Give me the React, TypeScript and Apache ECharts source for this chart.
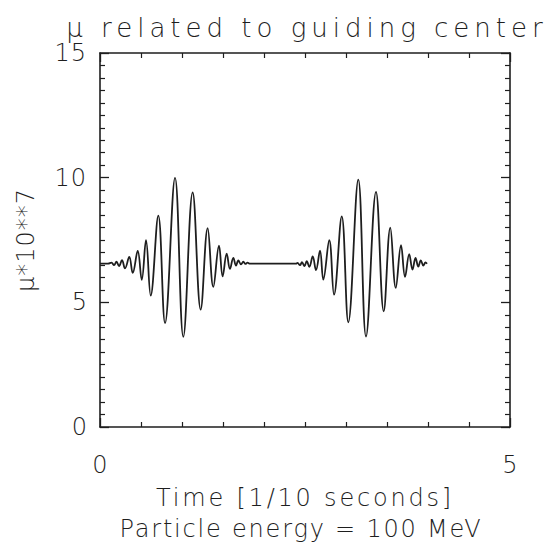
import React, { useEffect, useRef } from "react";
import * as echarts from "echarts";

// Time [1/10 s] of each local extremum of the trace
const timeValues = [
  0, 0.098, 0.14, 0.171, 0.201, 0.232, 0.268, 0.305, 0.357, 0.399, 0.46, 0.509,
  0.561, 0.618, 0.711, 0.793, 0.915, 1.016, 1.13, 1.228, 1.313, 1.382, 1.451,
  1.496, 1.545, 1.585, 1.626, 1.659, 1.687, 1.72, 1.748, 1.774, 1.799, 1.829,
  2.39, 2.409, 2.439, 2.463, 2.494, 2.521, 2.553, 2.594, 2.634, 2.683, 2.723,
  2.796, 2.854, 2.948, 3.028, 3.15, 3.244, 3.366, 3.46, 3.54, 3.607, 3.671,
  3.72, 3.771, 3.811, 3.848, 3.882, 3.912, 3.943, 3.97, 3.988,
];
// mu * 10**7 at those times
const muValues = [
  6.55, 6.55, 6.59, 6.49, 6.63, 6.45, 6.69, 6.36, 6.82, 6.18, 7.06, 5.9, 7.49,
  5.27, 8.48, 4.17, 9.99, 3.62, 9.41, 4.71, 7.98, 5.62, 7.27, 6.04, 6.95, 6.34,
  6.78, 6.47, 6.68, 6.52, 6.63, 6.54, 6.59, 6.55, 6.55, 6.58, 6.49, 6.61, 6.45,
  6.65, 6.42, 6.84, 6.29, 7.07, 5.91, 7.49, 5.31, 8.45, 4.2, 9.92, 3.63, 9.43,
  4.64, 8.0, 5.58, 7.29, 6.02, 6.93, 6.31, 6.78, 6.43, 6.68, 6.47, 6.6, 6.55,
];
const xTickLabels = ["0", "5"];
const yTickLabels = ["0", "5", "10", "15"];

const TITLE = "μ related to guiding center";
const X_NAME = "Time [1/10 seconds]";
const X_NAME2 = "Particle energy = 100 MeV";
const Y_NAME = "μ*10**7";

const FONT = "DejaVu Sans";
const INK = "#1e1e1e";

const spacing: Record<string, number> = {
  [TITLE]: 5,
  [X_NAME]: 2.8,
  [X_NAME2]: 1.8,
  [Y_NAME]: 1,
  "10": 1,
  "15": 1,
};

export default function App() {
  const ref = useRef<HTMLDivElement>(null);
  useEffect(() => {
    if (!ref.current) return;
    const chart = echarts.init(ref.current, null, { renderer: "svg" });
    const data = timeValues.map((t, i) => [t, muValues[i]]);
    const tickCommon = {
      axisLine: { show: true, onZero: false, lineStyle: { color: INK, width: 1.6 } },
      axisTick: { show: true, inside: true, length: 9, lineStyle: { color: INK, width: 1.3 } },
      minorTick: { show: true, splitNumber: 10, length: 5, lineStyle: { color: INK, width: 1.2 } },
      splitLine: { show: false },
      minorSplitLine: { show: false },
    };
    const labelStyle = { fontFamily: FONT, fontSize: 24, color: INK, fontWeight: 200 as any };
    const option: any = {
      animation: false,
      backgroundColor: "#ffffff",
      grid: { left: 100, right: 41, top: 53, bottom: 116 },
      xAxis: [
        {
          type: "value",
          min: 0,
          max: 5,
          interval: 5,
          position: "bottom",
          ...tickCommon,
          axisLabel: {
            ...labelStyle,
            margin: 26,
            formatter: (v: number) => xTickLabels[Math.round(v / 5)] ?? "",
          },
          name: X_NAME,
          nameLocation: "middle",
          nameGap: 59,
          nameTextStyle: { fontFamily: FONT, fontSize: 24, color: INK, fontWeight: 200 as any },
        },
        {
          type: "value",
          min: 0,
          max: 5,
          interval: 5,
          position: "top",
          ...tickCommon,
          axisLabel: { show: false },
        },
      ],
      yAxis: [
        {
          type: "value",
          min: 0,
          max: 15,
          interval: 5,
          position: "left",
          ...tickCommon,
          axisLabel: {
            ...labelStyle,
            margin: 13,
            formatter: (v: number) => yTickLabels[Math.round(v / 5)] ?? "",
          },
          name: Y_NAME,
          nameLocation: "middle",
          nameRotate: 90,
          nameGap: 62,
          nameTextStyle: { fontFamily: FONT, fontSize: 24, color: INK, fontWeight: 200 as any },
        },
        {
          type: "value",
          min: 0,
          max: 15,
          interval: 5,
          position: "right",
          ...tickCommon,
          axisLabel: { show: false },
        },
      ],
      graphic: [
        {
          type: "text",
          x: 307,
          y: 28,
          style: {
            text: TITLE,
            align: "center",
            verticalAlign: "middle",
            fontFamily: FONT,
            fontSize: 26,
            fontWeight: 200,
            fill: INK,
          },
        },
        {
          type: "text",
          x: 301,
          y: 529,
          style: {
            text: X_NAME2,
            align: "center",
            verticalAlign: "middle",
            fontFamily: FONT,
            fontSize: 24,
            fontWeight: 200,
            fill: INK,
          },
        },
      ],
      series: [
        {
          type: "line",
          xAxisIndex: 0,
          yAxisIndex: 0,
          data,
          showSymbol: false,
          smooth: 0.4,
          lineStyle: { color: INK, width: 1.8 },
        },
      ],
    };
    chart.setOption(option);
    const applySpacing = () => {
      ref.current?.querySelectorAll("text").forEach((el) => {
        const s = spacing[el.textContent ?? ""];
        if (s) el.setAttribute("letter-spacing", String(s));
      });
    };
    applySpacing();
    chart.on("finished", applySpacing);
    return () => chart.dispose();
  }, []);
  return <div ref={ref} style={{ width: 551, height: 543, position: "absolute", left: 0, top: 0, background: "#fff" }} />;
}
